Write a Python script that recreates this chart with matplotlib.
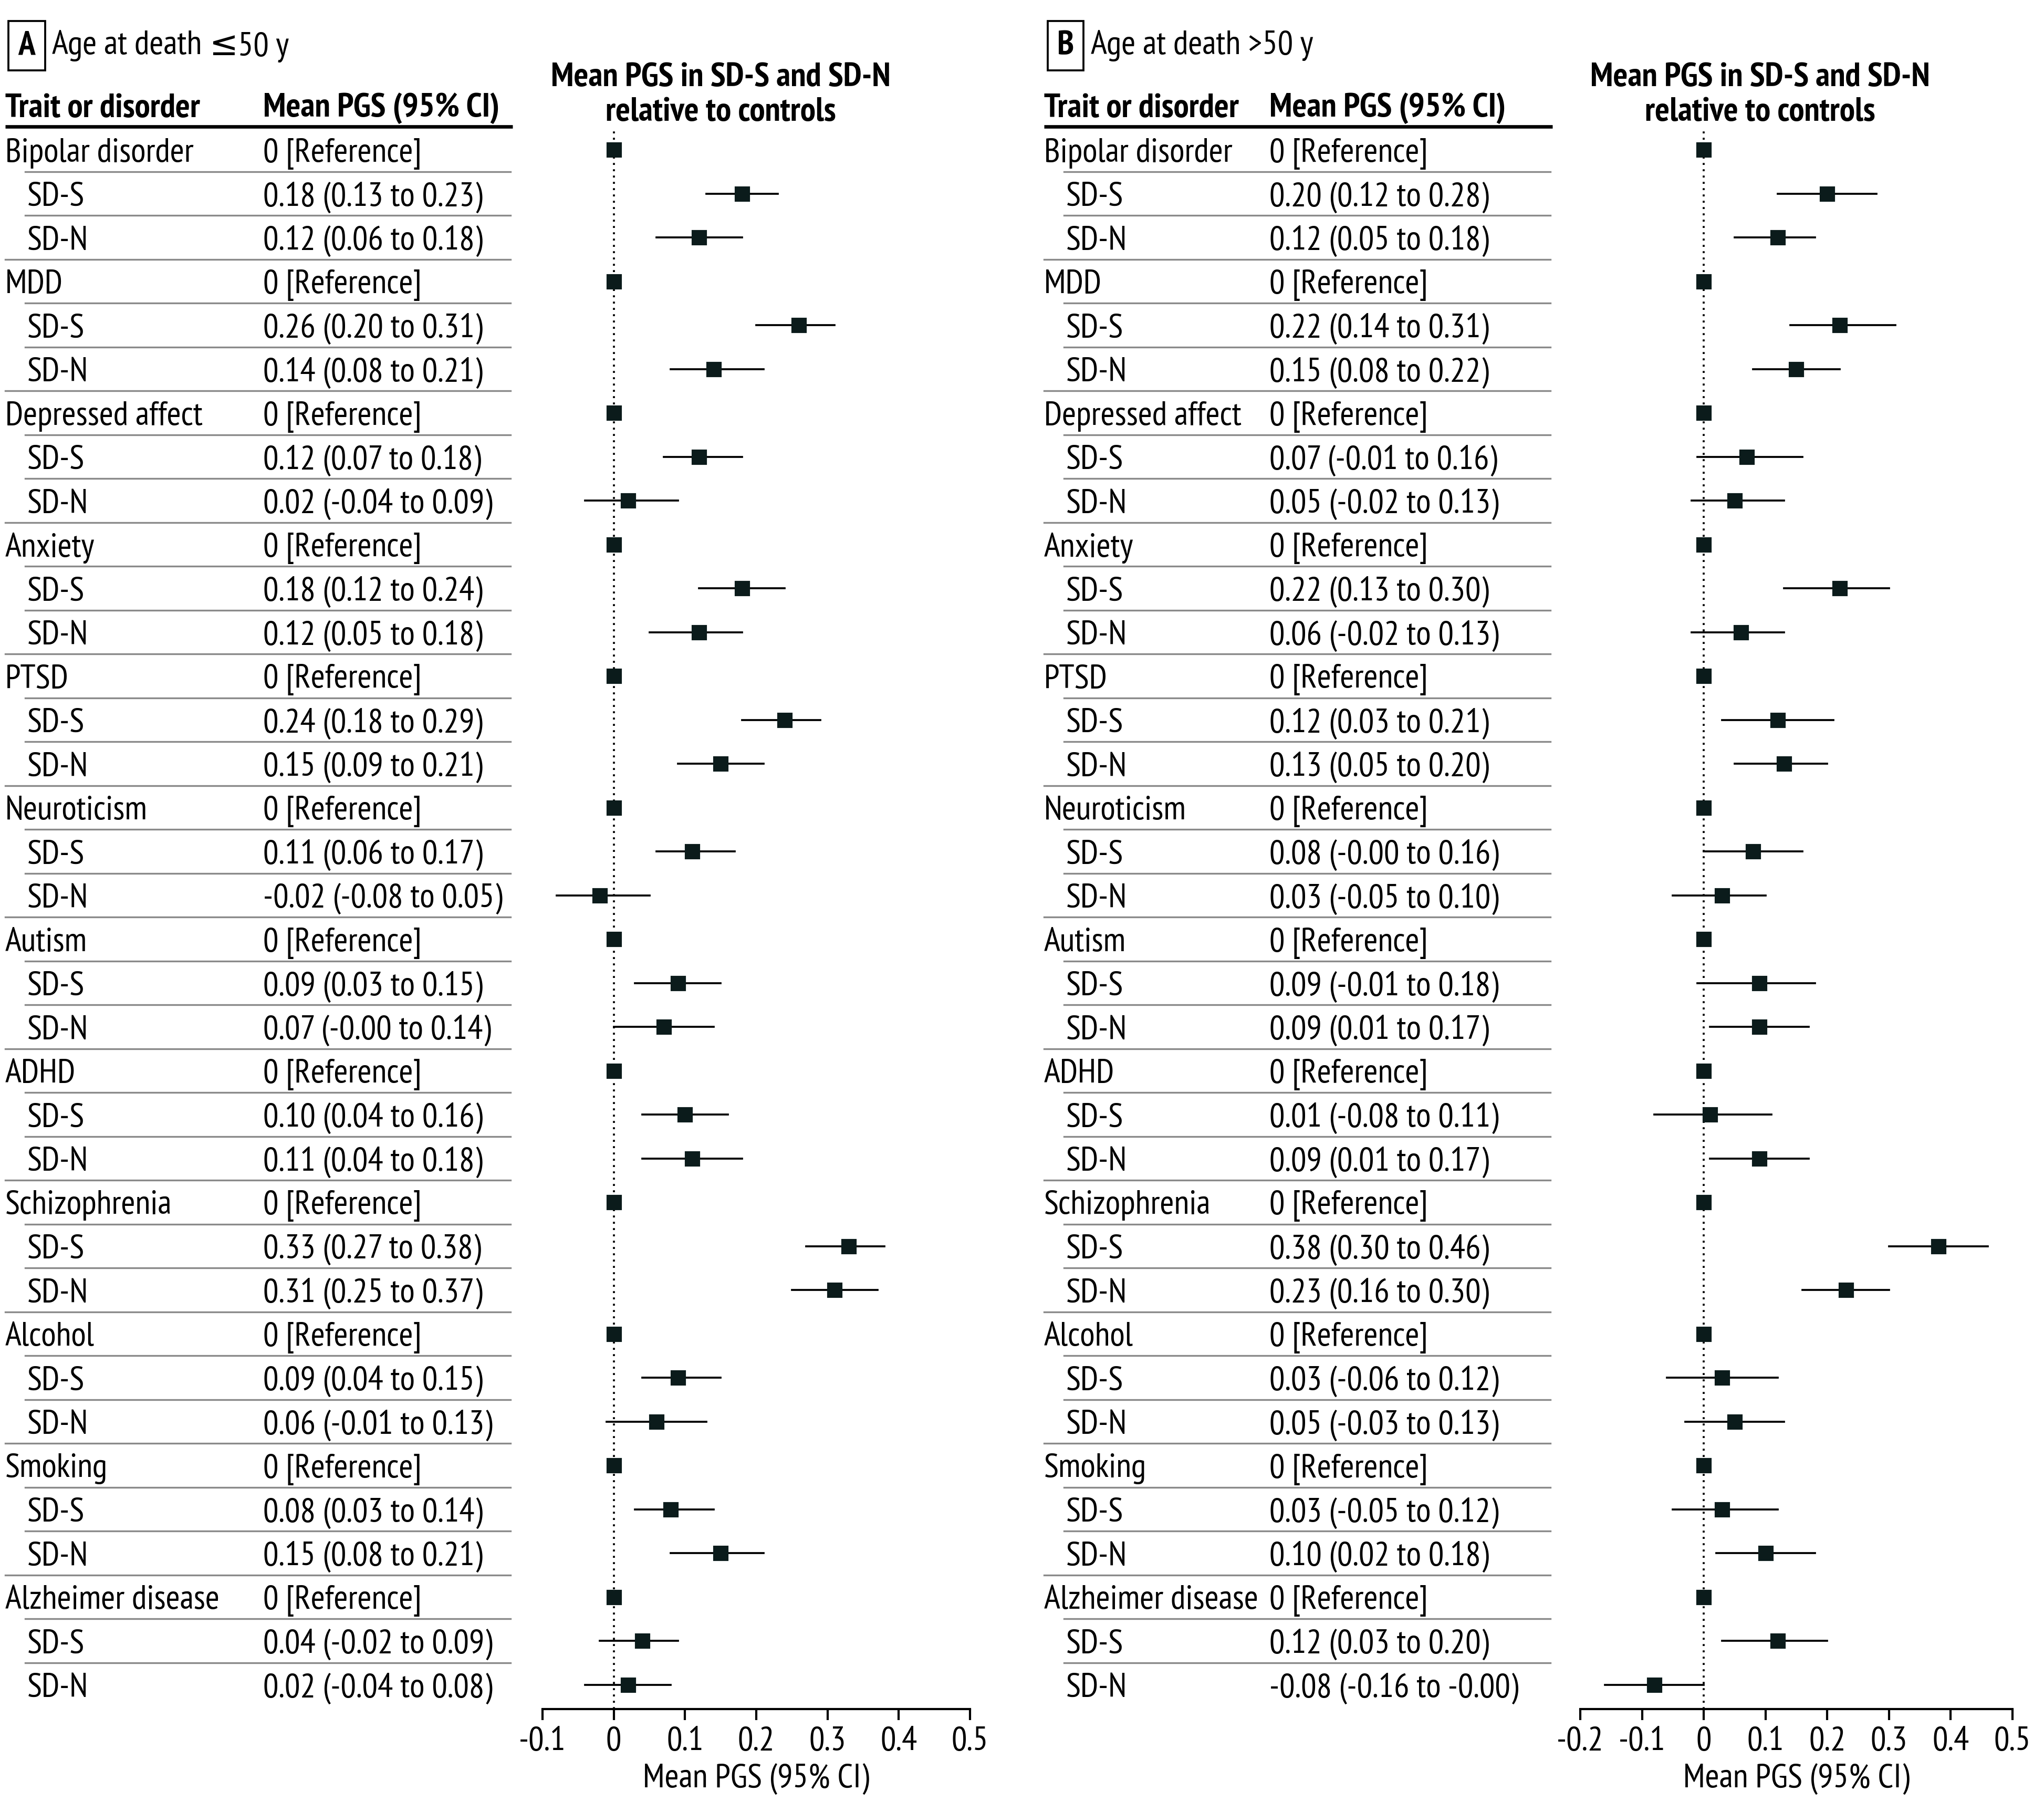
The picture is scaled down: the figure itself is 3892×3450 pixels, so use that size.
import matplotlib
matplotlib.use("Agg")
import matplotlib.pyplot as plt
from matplotlib import font_manager

traits = ["Bipolar disorder", "MDD", "Depressed affect", "Anxiety", "PTSD",
          "Neuroticism", "Autism", "ADHD", "Schizophrenia", "Alcohol",
          "Smoking", "Alzheimer disease"]

# Panel A: age at death <=50 y
a_sds_mean = [0.18, 0.26, 0.12, 0.18, 0.24, 0.11, 0.09, 0.10, 0.33, 0.09, 0.08, 0.04]
a_sds_lo   = [0.13, 0.20, 0.07, 0.12, 0.18, 0.06, 0.03, 0.04, 0.27, 0.04, 0.03, -0.02]
a_sds_hi   = [0.23, 0.31, 0.18, 0.24, 0.29, 0.17, 0.15, 0.16, 0.38, 0.15, 0.14, 0.09]
a_sdn_mean = [0.12, 0.14, 0.02, 0.12, 0.15, -0.02, 0.07, 0.11, 0.31, 0.06, 0.15, 0.02]
a_sdn_lo   = [0.06, 0.08, -0.04, 0.05, 0.09, -0.08, -0.00, 0.04, 0.25, -0.01, 0.08, -0.04]
a_sdn_hi   = [0.18, 0.21, 0.09, 0.18, 0.21, 0.05, 0.14, 0.18, 0.37, 0.13, 0.21, 0.08]

# Panel B: age at death >50 y
b_sds_mean = [0.20, 0.22, 0.07, 0.22, 0.12, 0.08, 0.09, 0.01, 0.38, 0.03, 0.03, 0.12]
b_sds_lo   = [0.12, 0.14, -0.01, 0.13, 0.03, -0.00, -0.01, -0.08, 0.30, -0.06, -0.05, 0.03]
b_sds_hi   = [0.28, 0.31, 0.16, 0.30, 0.21, 0.16, 0.18, 0.11, 0.46, 0.12, 0.12, 0.20]
b_sdn_mean = [0.12, 0.15, 0.05, 0.06, 0.13, 0.03, 0.09, 0.09, 0.23, 0.05, 0.10, -0.08]
b_sdn_lo   = [0.05, 0.08, -0.02, -0.02, 0.05, -0.05, 0.01, 0.01, 0.16, -0.03, 0.02, -0.16]
b_sdn_hi   = [0.18, 0.22, 0.13, 0.13, 0.20, 0.10, 0.17, 0.17, 0.30, 0.13, 0.18, -0.00]

a_ticks = [-0.1, 0, 0.1, 0.2, 0.3, 0.4, 0.5]
b_ticks = [-0.2, -0.1, 0, 0.1, 0.2, 0.3, 0.4, 0.5]

# ---------------------------------------------------------------
avail = {f.name for f in font_manager.fontManager.ttflist}
main = "PT Sans Narrow" if "PT Sans Narrow" in avail else "Liberation Sans Narrow"
plt.rcParams["font.family"] = [main, "DejaVu Sans"]
LEQ_FAM = ["Liberation Sans Narrow", "DejaVu Sans"]

W, H = 3892, 3450
fig = plt.figure(figsize=(W / 300, H / 300), dpi=300)
fig.patch.set_facecolor("white")

# fit font size so that the value strings take the same width as in the reference
renderer = fig.canvas.get_renderer()
probe = fig.text(0, 0, "0.04 (-0.02 to 0.09)", fontsize=12)
w1 = probe.get_window_extent(renderer).width
probe.set_text("Alzheimer disease")
w2 = probe.get_window_extent(renderer).width
probe.remove()
FS = 12 * 0.5 * (455.0 / w1 + 392.0 / w2)

row0_px, row_step = 285.0, 83.5
top_px, axis_px = 250.0, 3254.0
ytop = (top_px - row0_px) / row_step
ybot = (axis_px - row0_px) / row_step
bottom_f = (H - axis_px) / H
height_f = (axis_px - top_px) / H

MK = "#0b1b1b"
VA = "center_baseline"

def fmt(v):
    return f"{v:.2f}"

def panel(letter, title_parts, x_trait, x_sub, x_val, x_line0, x_line1, ax_l, ax_r, xlim, ticks, hdr_x,
          smean, slo, shi, nmean, nlo, nhi):
    ov = fig.add_axes([0, bottom_f, 1, height_f])
    ov.set_xlim(0, W)
    ov.set_ylim(ybot, ytop)
    ov.axis("off")
    ov.patch.set_alpha(0)

    ov.text(x_trait + 41, -2.37, letter, ha="center", va="center", fontsize=FS, fontweight="bold",
            bbox=dict(boxstyle="square,pad=0.28", fc="white", ec="black", lw=0.9))
    prev = ov.text(x_trait + 89, -2.37, title_parts[0], ha="left", va="center", fontsize=FS)
    if len(title_parts) > 1:
        sym = ov.annotate(title_parts[1], xy=(1, 0.5), xycoords=prev, ha="left", va="center",
                          fontsize=FS, family=LEQ_FAM)
        ov.annotate(title_parts[2], xy=(1, 0), xycoords=sym, ha="left", va="bottom", fontsize=FS)
        # align last part on the same line as the first part
    ov.text(x_trait, -0.94, "Trait or disorder", ha="left", va="center", fontsize=FS, fontweight="bold")
    ov.text(x_val, -0.94, "Mean PGS (95% CI)", ha="left", va="center", fontsize=FS, fontweight="bold")
    ov.plot([x_line0, x_line1], [-0.53, -0.53], color="black", lw=1.6, clip_on=False,
            solid_capstyle="butt")

    ov.text(hdr_x, -1.25, "Mean PGS in SD-S and SD-N\nrelative to controls", ha="center", va="center",
            fontsize=FS, fontweight="bold", linespacing=1.18)

    n = len(traits)
    for i, t in enumerate(traits):
        r = 3 * i
        ov.text(x_trait, r, t, ha="left", va=VA, fontsize=FS)
        ov.text(x_val, r, "0 [Reference]", ha="left", va=VA, fontsize=FS)
        ov.text(x_sub, r + 1, "SD-S", ha="left", va=VA, fontsize=FS)
        ov.text(x_val, r + 1, f"{fmt(smean[i])} ({fmt(slo[i])} to {fmt(shi[i])})",
                ha="left", va=VA, fontsize=FS)
        ov.text(x_sub, r + 2, "SD-N", ha="left", va=VA, fontsize=FS)
        ov.text(x_val, r + 2, f"{fmt(nmean[i])} ({fmt(nlo[i])} to {fmt(nhi[i])})",
                ha="left", va=VA, fontsize=FS)
        ov.plot([x_sub - 4, x_line1 - 4], [r + 0.5, r + 0.5], color="#8a8a8a", lw=0.8)
        ov.plot([x_sub - 4, x_line1 - 4], [r + 1.5, r + 1.5], color="#8a8a8a", lw=0.8)
        if i < n - 1:
            ov.plot([x_line0, x_line1 - 4], [r + 2.5, r + 2.5], color="#8a8a8a", lw=0.8)

    ax = fig.add_axes([ax_l / W, bottom_f, (ax_r - ax_l) / W, height_f])
    ax.set_xlim(*xlim)
    ax.set_ylim(ybot, ytop)
    ax.patch.set_alpha(0)
    for s in ["top", "left", "right"]:
        ax.spines[s].set_visible(False)
    ax.spines["bottom"].set_linewidth(1.0)
    ax.set_yticks([])
    ax.set_xticks(ticks)
    ax.set_xticklabels(["0" if v == 0 else f"{v:g}" for v in ticks])
    ax.tick_params(axis="x", direction="out", length=5, width=1.0, labelsize=FS, pad=3)
    ax.set_xlabel("Mean PGS (95% CI)", fontsize=FS, labelpad=3)
    ax.axvline(0, ymin=0, ymax=1, color="black", lw=0.9, ls=(0, (1, 2.2)))

    for i in range(len(traits)):
        r = 3 * i
        ax.plot([0], [r], marker="s", ms=6, color=MK, ls="none", zorder=3)
        ax.plot([slo[i], shi[i]], [r + 1, r + 1], color="black", lw=0.9, zorder=2)
        ax.plot([smean[i]], [r + 1], marker="s", ms=6, color=MK, ls="none", zorder=3)
        ax.plot([nlo[i], nhi[i]], [r + 2, r + 2], color="black", lw=0.9, zorder=2)
        ax.plot([nmean[i]], [r + 2], marker="s", ms=6, color=MK, ls="none", zorder=3)
    return ax

panel("A", ["Age at death ", "\u2264", "50 y"], 10, 52, 501, 10, 976, 1033, 1847, (-0.1, 0.5), a_ticks, 1372,
      a_sds_mean, a_sds_lo, a_sds_hi, a_sdn_mean, a_sdn_lo, a_sdn_hi)
panel("B", ["Age at death >50 y"], 1988, 2030, 2417, 1988, 2956, 3009, 3832, (-0.2, 0.5), b_ticks, 3351,
      b_sds_mean, b_sds_lo, b_sds_hi, b_sdn_mean, b_sdn_lo, b_sdn_hi)

fig.savefig("out.png", dpi=300, facecolor="white")
